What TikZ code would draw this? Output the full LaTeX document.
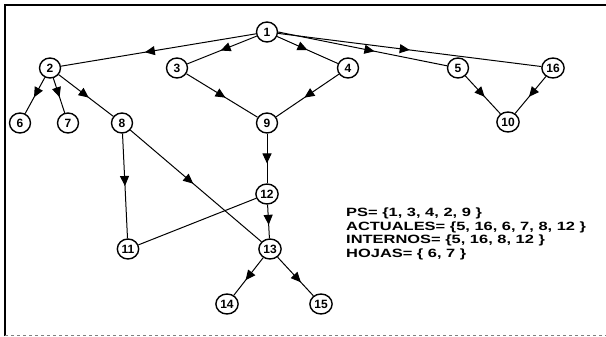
\documentclass[tikz,border=0pt]{standalone}
\usepackage{fontspec}
\setmainfont{Liberation Sans}
\usetikzlibrary{decorations.markings,arrows.meta,shapes.geometric}
\tikzset{
  nd/.style={draw,line width=1.4pt,ellipse,inner sep=1.2pt,minimum width=21pt,minimum height=20pt,font=\bfseries\fontsize{12}{12}\selectfont},
  ed/.style={line width=1pt,postaction={decorate},decoration={markings,mark=at position #1 with {\arrow{Triangle[length=10pt,width=9pt]}}}},
  ed/.default=0.55,
  pl/.style={line width=1pt},
  lbl/.style={font=\bfseries\fontsize{12}{13.5}\selectfont,anchor=north west,inner sep=0pt}
}
\begin{document}
\begin{tikzpicture}[x=1pt,y=-1pt]
\useasboundingbox (0,0) rectangle (606,337);
\draw[line width=1.4pt] (5,336) -- (5,5) -- (606,5);
\draw[line width=1pt,gray,dashed] (5,335.5) -- (606,335.5);
\node[nd] (n1) at (267,32) {1};
\node[nd] (n2) at (50,68) {2};
\node[nd] (n3) at (177,68) {3};
\node[nd] (n4) at (348,68) {4};
\node[nd] (n5) at (458,68) {5};
\node[nd] (n16) at (553,68) {16};
\node[nd] (n6) at (20,123) {6};
\node[nd] (n7) at (68,123) {7};
\node[nd] (n8) at (122,123) {8};
\node[nd] (n9) at (267,123) {9};
\node[nd] (n10) at (508,122) {10};
\node[nd] (n12) at (267,194) {12};
\node[nd] (n11) at (128,249) {11};
\node[nd] (n13) at (270,249) {13};
\node[nd] (n14) at (227,304) {14};
\node[nd] (n15) at (321,304) {15};
\draw[ed=0.57] (n1) -- (n2);
\draw[ed=0.52] (n1) -- (n3);
\draw[ed=0.5] (n1) -- (n4);
\draw[ed=0.57] (n1.east) -- (n5);
\draw[ed=0.5] (n1) -- (n16);
\draw[ed=0.55] (n2) -- (n6);
\draw[ed=0.55] (n2) -- (n7);
\draw[ed=0.55] (n2) -- (n8);
\draw[ed=0.55] (n3) -- (n9);
\draw[ed=0.55] (n4) -- (n9);
\draw[ed=0.55] (n5) -- (n10);
\draw[ed=0.55] (n16) -- (n10);
\draw[ed=0.6] (n9) -- (n12);
\draw[ed=0.6] (n12) -- (n13);
\draw[ed=0.5] (n8) -- (n11);
\draw[ed=0.48] (n8) -- (n13);
\draw[pl] (n12) -- (n11);
\draw[ed=0.6] (n13) -- (n14);
\draw[ed=0.65] (n13) -- (n15);
\node[lbl] (txt) at (346,207) {\scalebox{1.37}[1]{\begin{tabular}{@{}l@{}}PS= \{1, 3, 4, 2, 9 \}\\ACTUALES= \{5, 16, 6, 7, 8, 12 \}\\INTERNOS= \{5, 16, 8, 12 \}\\HOJAS= \{ 6, 7 \}\end{tabular}}};
\end{tikzpicture}
\end{document}
